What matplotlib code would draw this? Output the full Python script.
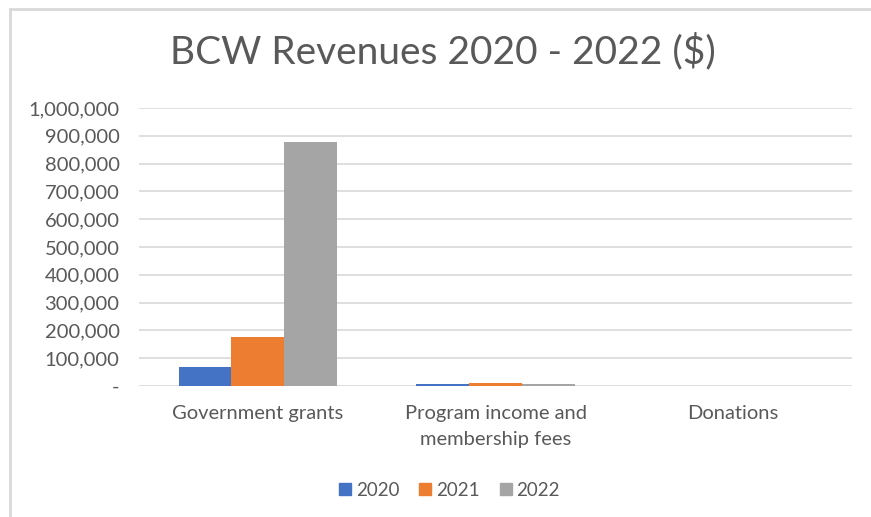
import numpy as np
import matplotlib.pyplot as plt
from matplotlib.lines import Line2D
from matplotlib.ticker import FuncFormatter

categories = ['Government grants', 'Program income and\nmembership fees', 'Donations']
years = ['2020', '2021', '2022']
rev_2020 = [70000, 7000, 0]
rev_2021 = [175000, 9500, 0]
rev_2022 = [877000, 7000, 0]
colors = ['#4472C4', '#ED7D31', '#A5A5A5']

plt.rcParams['font.family'] = ['Lato', 'DejaVu Sans']
text_color = '#595959'

fig = plt.figure(figsize=(8.71, 5.17), dpi=100)
ax = fig.add_axes([0.1596, 0.2534, 0.8186, 0.5377])

x = np.arange(len(categories))
w = 1 / 4.5
for i, (vals, yr) in enumerate(zip([rev_2020, rev_2021, rev_2022], years)):
    ax.bar(x + (i - 1) * w, vals, width=w, color=colors[i], label=yr, zorder=3)

ax.set_xlim(-0.5, 2.5)
ax.set_ylim(0, 1000000)
ax.set_yticks(np.arange(0, 1000001, 100000))
ax.yaxis.set_major_formatter(FuncFormatter(lambda v, p: '-' if v == 0 else f'{int(v):,}'))
ax.set_xticks(x)
ax.set_xticklabels(categories, linespacing=1.6)
ax.grid(axis='y', color='#D9D9D9', linewidth=1.2, zorder=0)
for s in ax.spines.values():
    s.set_visible(False)
ax.tick_params(axis='y', length=0, pad=14, labelsize=14.5, labelcolor=text_color)
ax.tick_params(axis='x', length=0, pad=14, labelsize=14.5, labelcolor=text_color)

fig.text(0.508, 0.9, 'BCW Revenues 2020 - 2022 ($)', ha='center', va='center',
         fontsize=28, color=text_color)

handles = [Line2D([0], [0], marker='s', linestyle='none', markersize=9,
                  markerfacecolor=c, markeredgecolor=c) for c in colors]
fig.legend(handles, years, loc='center', bbox_to_anchor=(0.514, 0.052), ncol=3,
           frameon=False, fontsize=13.5, labelcolor=text_color,
           handletextpad=0.05, columnspacing=0.9, handlelength=1.0)

# chart frame (only left and top edges show)
fig.add_artist(Line2D([0.012, 0.012], [0, 0.983], color='#D9D9D9', linewidth=2,
                      transform=fig.transFigure))
fig.add_artist(Line2D([0.012, 1], [0.983, 0.983], color='#D9D9D9', linewidth=2,
                      transform=fig.transFigure))

fig.savefig('out.png', dpi=100, facecolor='white')
